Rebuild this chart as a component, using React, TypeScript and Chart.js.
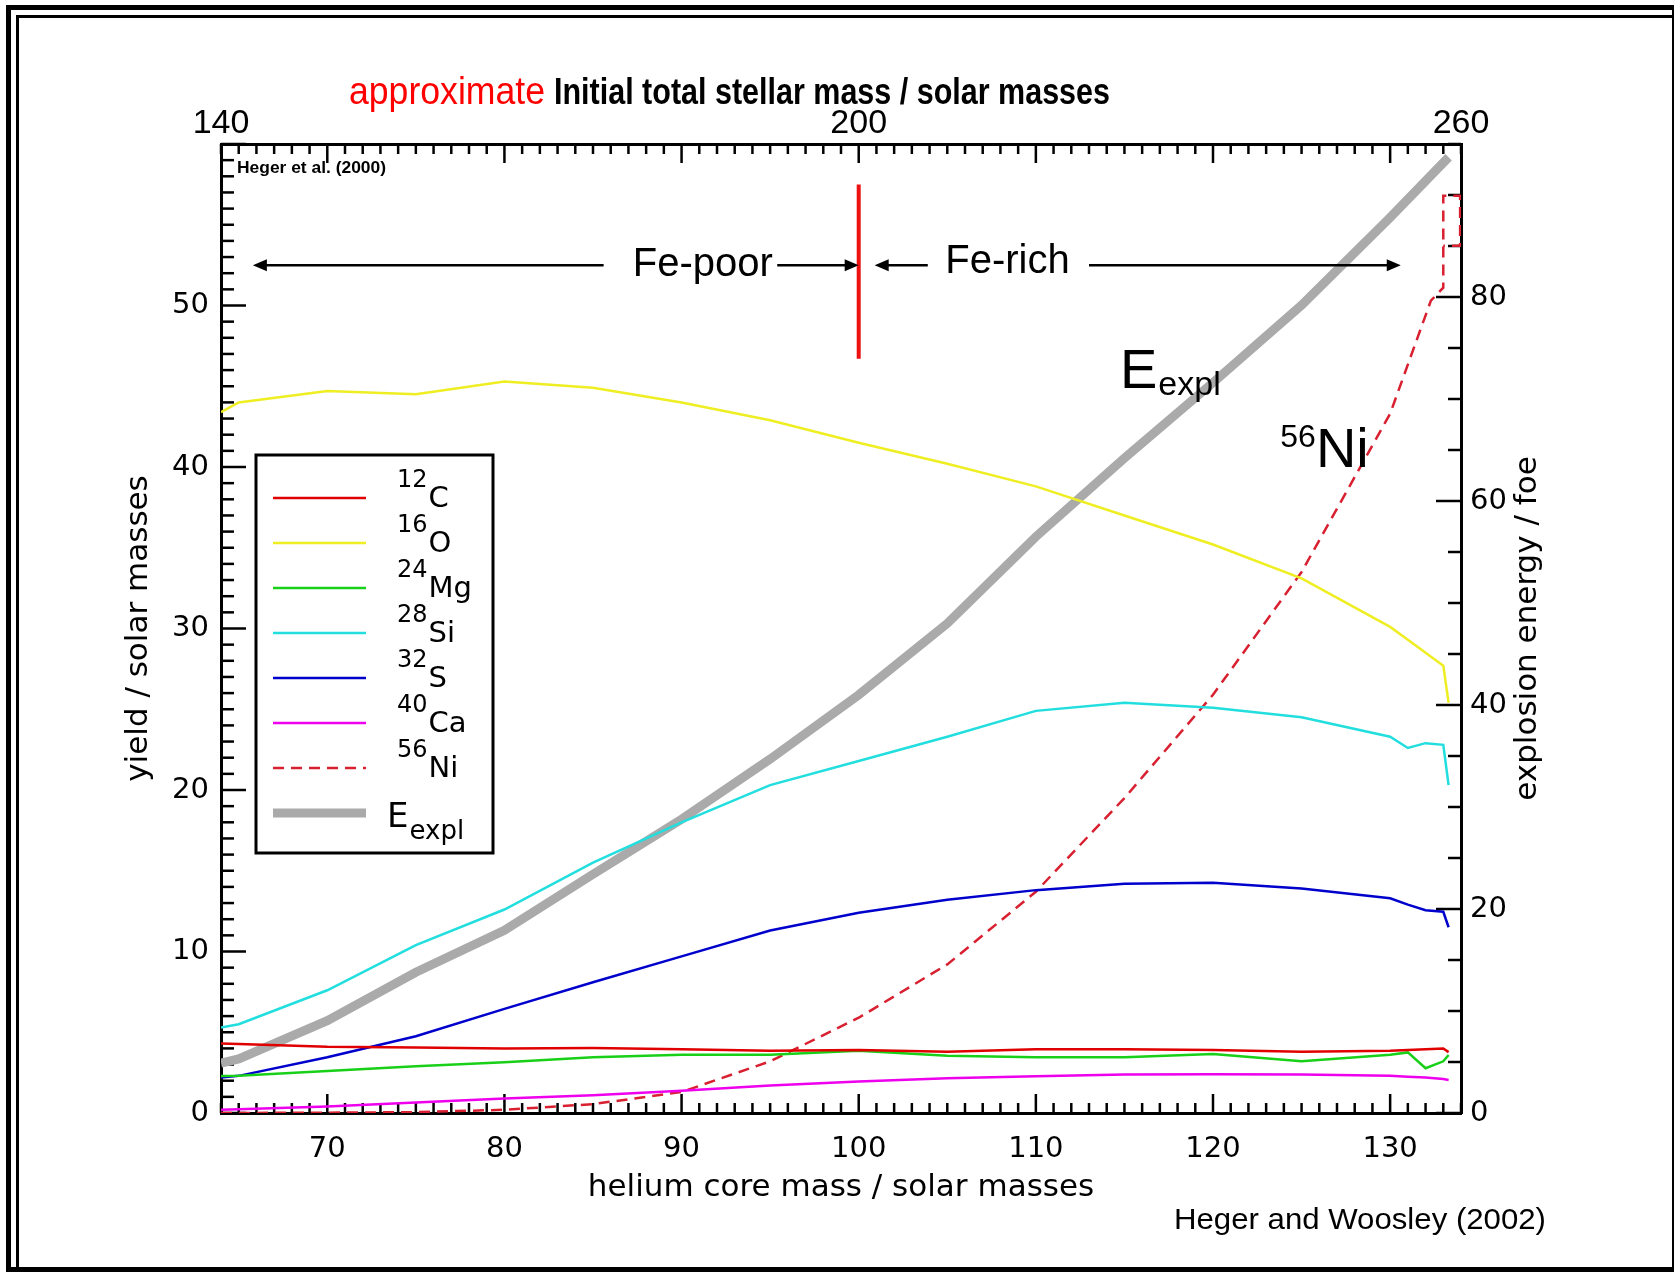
import React, { useEffect, useRef } from 'react';
import { Chart, registerables } from 'chart.js';

Chart.register(...registerables);

const CANVAS_W = 1674;
const CANVAS_H = 1272;

// ---------- data ----------
// helium core mass grid, solar masses
const heCoreMass = [64, 65, 70, 75, 80, 85, 90, 95, 100, 105, 110, 115, 120, 125, 130, 131, 132, 133, 133.3];
const yieldC12 = [4.3, 4.28, 4.1, 4.05, 4.0, 4.02, 3.95, 3.85, 3.9, 3.8, 3.95, 3.95, 3.9, 3.8, 3.85, 3.9, 3.95, 4.0, 3.77];
const yieldO16 = [43.4, 44.0, 44.7, 44.5, 45.3, 44.9, 44.0, 42.9, 41.5, 40.2, 38.8, 37.0, 35.2, 33.1, 30.1, 29.3, 28.5, 27.7, 25.4];
const yieldMg24 = [2.29, 2.3, 2.6, 2.9, 3.15, 3.45, 3.6, 3.6, 3.85, 3.55, 3.45, 3.45, 3.65, 3.2, 3.6, 3.75, 2.77, 3.2, 3.59];
const yieldSi28 = [5.3, 5.5, 7.6, 10.4, 12.6, 15.5, 18.0, 20.3, 21.8, 23.3, 24.9, 25.4, 25.1, 24.5, 23.3, 22.6, 22.9, 22.8, 20.3];
const yieldS32 = [2.2, 2.3, 3.45, 4.75, 6.45, 8.1, 9.7, 11.3, 12.4, 13.2, 13.8, 14.2, 14.25, 13.9, 13.3, 12.9, 12.56, 12.46, 11.5];
const yieldCa40 = [0.2, 0.23, 0.4, 0.65, 0.9, 1.1, 1.38, 1.7, 1.95, 2.15, 2.28, 2.38, 2.4, 2.38, 2.3, 2.25, 2.2, 2.1, 2.04];

const ni56Mass = [64, 70, 75, 80, 85, 90, 95, 100, 105, 110, 115, 120, 125, 130, 132.3, 133.0, 133.0, 133.95, 133.95, 133.0];
const ni56Yield = [0.0, 0.02, 0.05, 0.2, 0.55, 1.3, 3.2, 5.9, 9.2, 13.7, 19.5, 25.9, 33.5, 43.3, 50.3, 51.1, 56.8, 56.8, 53.7, 53.7];

const eExplMass = [64, 65, 70, 75, 80, 85, 90, 95, 100, 105, 110, 115, 120, 125, 130, 133.3];
const eExplFoe = [4.9, 5.3, 9.05, 13.8, 17.9, 23.4, 28.8, 34.7, 41.0, 48.0, 56.5, 64.2, 71.6, 79.2, 87.8, 93.7];

const legendMass = ['12', '16', '24', '28', '32', '40', '56'];
const legendElement = ['C', 'O', 'Mg', 'Si', 'S', 'Ca', 'Ni'];

const xTickValues = [70, 80, 90, 100, 110, 120, 130];
const yTickValues = [0, 10, 20, 30, 40, 50];
const y2TickValues = [0, 20, 40, 60, 80];
const topTickValues = [64, 100, 134];
const topTickLabels = ['140', '200', '260'];

// ---------- styling ----------
const IDL_FONT = "'DejaVu Sans', sans-serif";
const PPT_FONT = "'Liberation Sans', Arial, sans-serif";

const pts = (xs: number[], ys: number[]) => xs.map((x, i) => ({ x, y: ys[i] }));

function drawText(
  ctx: CanvasRenderingContext2D,
  s: string,
  x: number,
  y: number,
  font: string,
  color: string,
  opts: { align?: CanvasTextAlign; baseline?: CanvasTextBaseline; width?: number } = {}
): number {
  ctx.save();
  ctx.font = font;
  ctx.fillStyle = color;
  ctx.textAlign = opts.align || 'left';
  ctx.textBaseline = opts.baseline || 'alphabetic';
  const m = ctx.measureText(s).width;
  let w = m;
  if (opts.width) {
    const k = opts.width / m;
    ctx.translate(x, y);
    ctx.scale(k, 1);
    ctx.fillText(s, 0, 0);
    w = opts.width;
  } else {
    ctx.fillText(s, x, y);
  }
  ctx.restore();
  return w;
}

const framePlugin = {
  id: 'frame',
  beforeDraw(chart: any) {
    const { ctx } = chart;
    ctx.save();
    ctx.fillStyle = '#ffffff';
    ctx.fillRect(0, 0, CANVAS_W, CANVAS_H);
    ctx.fillStyle = '#000000';
    // outer frame
    ctx.fillRect(6, 5, CANVAS_W - 6, 5);
    ctx.fillRect(6, 5, 5, CANVAS_H - 5);
    ctx.fillRect(6, CANVAS_H - 5, CANVAS_W - 6, 5);
    ctx.fillRect(CANVAS_W - 2, 5, 2, CANVAS_H - 5);
    // inner line
    ctx.fillRect(16, 15, CANVAS_W - 16, 3);
    ctx.fillRect(16, 15, 3, CANVAS_H - 15);
    ctx.restore();
  },
};

const tickPlugin = {
  id: 'idlTicks',
  beforeDatasetsDraw(chart: any) {
    const { ctx, chartArea: a, scales } = chart;
    const line = (x1: number, y1: number, x2: number, y2: number) => {
      ctx.beginPath();
      ctx.moveTo(x1, y1);
      ctx.lineTo(x2, y2);
      ctx.stroke();
    };
    ctx.save();
    ctx.strokeStyle = '#000';
    ctx.lineWidth = 2.5;
    const xs = scales.x;
    for (let v = Math.ceil(xs.min); v <= xs.max; v += 1) {
      const px = xs.getPixelForValue(v);
      const len = v % 10 === 0 ? 19 : 10;
      line(px, a.bottom, px, a.bottom - len);
      line(px, a.top, px, a.top + len);
    }
    const ys = scales.y;
    for (let v = ys.min; v <= ys.max; v += 1) {
      const py = ys.getPixelForValue(v);
      const len = v % 10 === 0 ? 25 : 13;
      line(a.left, py, a.left + len, py);
    }
    const y2 = scales.y2;
    for (let v = y2.min; v <= y2.max; v += 5) {
      const py = y2.getPixelForValue(v);
      const len = v % 20 === 0 ? 25 : 13;
      line(a.right, py, a.right - len, py);
    }
    ctx.restore();
  },
};

const annotationPlugin = {
  id: 'annotations',
  afterDatasetsDraw(chart: any) {
    const { ctx, chartArea: a, scales } = chart;
    const x = scales.x;
    const y = scales.y;
    ctx.save();

    // Fe-poor / Fe-rich divider
    ctx.strokeStyle = '#ee1111';
    ctx.lineWidth = 4;
    ctx.beginPath();
    ctx.moveTo(x.getPixelForValue(100), y.getPixelForValue(57.5));
    ctx.lineTo(x.getPixelForValue(100), y.getPixelForValue(46.7));
    ctx.stroke();

    // arrows
    const ay = y.getPixelForValue(52.5);
    const arrows: [number, number][] = [
      [85.6, 65.8],
      [95.4, 100.0],
      [103.9, 100.9],
      [113.0, 130.6],
    ];
    ctx.strokeStyle = '#000';
    ctx.fillStyle = '#000';
    ctx.lineWidth = 2.5;
    for (const [from, to] of arrows) {
      const x1 = x.getPixelForValue(from);
      const x2 = x.getPixelForValue(to);
      const dir = Math.sign(x2 - x1);
      ctx.beginPath();
      ctx.moveTo(x1, ay);
      ctx.lineTo(x2 - dir * 10, ay);
      ctx.stroke();
      ctx.beginPath();
      ctx.moveTo(x2, ay);
      ctx.lineTo(x2 - dir * 14, ay - 6);
      ctx.lineTo(x2 - dir * 14, ay + 6);
      ctx.closePath();
      ctx.fill();
    }
    drawText(ctx, 'Fe-poor', x.getPixelForValue(91.2), ay, `40px ${PPT_FONT}`, '#000', { align: 'center', baseline: 'middle' });
    drawText(ctx, 'Fe-rich', x.getPixelForValue(108.4), ay - 3, `40px ${PPT_FONT}`, '#000', { align: 'center', baseline: 'middle' });

    // E_expl label
    const ex = x.getPixelForValue(114.75);
    const eb = y.getPixelForValue(44.9);
    const ew = drawText(ctx, 'E', ex, eb, `56px ${PPT_FONT}`, '#000');
    drawText(ctx, 'expl', ex + ew + 1, eb + 7, `34px ${PPT_FONT}`, '#000');

    // 56Ni label
    const nx = x.getPixelForValue(123.8);
    const nb = y.getPixelForValue(40.0);
    const nw = drawText(ctx, '56', nx, nb - 20, `32px ${PPT_FONT}`, '#000');
    drawText(ctx, 'Ni', nx + nw, nb, `56px ${PPT_FONT}`, '#000');

    // small IDL credit inside plot
    drawText(ctx, 'Heger et al. (2000)', a.left + 16, a.top + 29, `bold 16px ${PPT_FONT}`, '#000', { width: 149 });

    // legend box
    const lx = a.left + 35;
    const ly = a.top + 311;
    ctx.fillStyle = '#fff';
    ctx.fillRect(lx, ly, 237, 398);
    ctx.strokeStyle = '#000';
    ctx.lineWidth = 3;
    ctx.setLineDash([]);
    ctx.strokeRect(lx, ly, 237, 398);
    const datasets = chart.data.datasets;
    datasets.forEach((ds: any, i: number) => {
      const rowY = ly + 43 + 45 * i;
      ctx.save();
      ctx.beginPath();
      ctx.strokeStyle = ds.borderColor;
      ctx.lineWidth = ds.borderWidth;
      ctx.setLineDash(ds.borderDash || []);
      ctx.moveTo(lx + 17, rowY);
      ctx.lineTo(lx + 110, rowY);
      ctx.stroke();
      ctx.restore();
      const tx = lx + 141;
      if (i < legendMass.length) {
        const w = drawText(ctx, legendMass[i], tx, rowY - 11, `24px ${IDL_FONT}`, '#000');
        drawText(ctx, legendElement[i], tx + w + 1, rowY + 9, `29px ${IDL_FONT}`, '#000');
      } else {
        const w = drawText(ctx, 'E', tx - 10, rowY + 14, `34px ${IDL_FONT}`, '#000');
        drawText(ctx, 'expl', tx - 10 + w + 1, rowY + 26, `26px ${IDL_FONT}`, '#000');
      }
    });

    ctx.restore();
  },
};

const outerTextPlugin = {
  id: 'outerText',
  afterDraw(chart: any) {
    const { ctx, chartArea: a } = chart;
    // right-axis title, reading bottom to top
    ctx.save();
    ctx.translate(a.right + 67, (a.top + a.bottom) / 2);
    ctx.rotate(-Math.PI / 2);
    ctx.font = `31px ${IDL_FONT}`;
    ctx.fillStyle = '#000';
    ctx.textAlign = 'center';
    ctx.textBaseline = 'middle';
    ctx.fillText('explosion energy / foe', 0, 0);
    ctx.restore();

    // top title
    drawText(ctx, 'approximate', 349, 104, `38px ${PPT_FONT}`, '#ff0000', { width: 196 });
    drawText(ctx, 'Initial total stellar mass / solar masses', 554, 104, `bold 37px ${PPT_FONT}`, '#000', { width: 556 });

    // reference
    drawText(ctx, 'Heger and Woosley (2002)', 1174, 1229, `30px ${PPT_FONT}`, '#000', { width: 372 });
  },
};

export default function App() {
  const canvasRef = useRef<HTMLCanvasElement | null>(null);

  useEffect(() => {
    document.body.style.margin = '0';
    const canvas = canvasRef.current;
    if (!canvas) return;

    const common = {
      pointRadius: 0,
      tension: 0,
      fill: false,
      yAxisID: 'y',
      xAxisID: 'x',
    };

    const chart = new Chart(canvas, {
      type: 'line',
      data: {
        datasets: [
          { ...common, label: '12C', data: pts(heCoreMass, yieldC12), borderColor: '#e00000', borderWidth: 2.5 },
          { ...common, label: '16O', data: pts(heCoreMass, yieldO16), borderColor: '#eeee22', borderWidth: 2.5 },
          { ...common, label: '24Mg', data: pts(heCoreMass, yieldMg24), borderColor: '#18d018', borderWidth: 2.5 },
          { ...common, label: '28Si', data: pts(heCoreMass, yieldSi28), borderColor: '#22dede', borderWidth: 2.5 },
          { ...common, label: '32S', data: pts(heCoreMass, yieldS32), borderColor: '#0000cc', borderWidth: 2.5 },
          { ...common, label: '40Ca', data: pts(heCoreMass, yieldCa40), borderColor: '#ee00ee', borderWidth: 2.5 },
          { ...common, label: '56Ni', data: pts(ni56Mass, ni56Yield), borderColor: '#d82030', borderWidth: 2.5, borderDash: [11, 7] },
          { ...common, label: 'Eexpl', data: pts(eExplMass, eExplFoe), borderColor: '#aaaaaa', borderWidth: 9, yAxisID: 'y2' },
        ],
      },
      options: {
        responsive: false,
        maintainAspectRatio: false,
        devicePixelRatio: 1,
        animation: false,
        events: [],
        layout: { padding: 0 },
        plugins: {
          legend: { display: false },
          title: { display: false },
          tooltip: { enabled: false },
        },
        scales: {
          x: {
            type: 'linear',
            position: 'bottom',
            min: 64,
            max: 134,
            afterBuildTicks: (s: any) => {
              s.ticks = xTickValues.map((v) => ({ value: v }));
            },
            afterFit: (s: any) => {
              s.height = CANVAS_H - 1113;
            },
            ticks: {
              autoSkip: false,
              maxRotation: 0,
              padding: 19,
              color: '#000',
              font: { family: IDL_FONT, size: 29 },
              callback: (v: any) => String(v),
            },
            grid: { display: false, drawTicks: false },
            border: { display: true, color: '#000', width: 3 },
            title: {
              display: true,
              text: 'helium core mass / solar masses',
              color: '#000',
              font: { family: IDL_FONT, size: 31 },
              padding: { top: 0, bottom: 65 },
            },
          },
          x2: {
            type: 'linear',
            position: 'top',
            min: 64,
            max: 134,
            afterBuildTicks: (s: any) => {
              s.ticks = topTickValues.map((v) => ({ value: v }));
            },
            afterFit: (s: any) => {
              s.height = 144;
            },
            ticks: {
              autoSkip: false,
              maxRotation: 0,
              padding: 0,
              color: '#000',
              font: { family: PPT_FONT, size: 34 },
              callback: (_v: any, i: number) => topTickLabels[i],
            },
            grid: { display: false, drawTicks: false },
            border: { display: true, color: '#000', width: 3 },
          },
          y: {
            type: 'linear',
            position: 'left',
            min: 0,
            max: 60,
            afterBuildTicks: (s: any) => {
              s.ticks = yTickValues.map((v) => ({ value: v }));
            },
            afterFit: (s: any) => {
              s.width = 221;
            },
            ticks: {
              autoSkip: false,
              padding: 12,
              color: '#000',
              font: { family: IDL_FONT, size: 29 },
              callback: (v: any) => String(v),
            },
            grid: { display: false, drawTicks: false },
            border: { display: true, color: '#000', width: 3 },
            title: {
              display: true,
              text: 'yield / solar masses',
              color: '#000',
              font: { family: IDL_FONT, size: 31 },
              padding: { top: 120, bottom: 0 },
            },
          },
          y2: {
            type: 'linear',
            position: 'right',
            min: 0,
            max: 95,
            afterBuildTicks: (s: any) => {
              s.ticks = y2TickValues.map((v) => ({ value: v }));
            },
            afterFit: (s: any) => {
              s.width = CANVAS_W - 1461;
            },
            ticks: {
              autoSkip: false,
              padding: 9,
              color: '#000',
              font: { family: IDL_FONT, size: 29 },
              callback: (v: any) => String(v),
            },
            grid: { display: false, drawTicks: false },
            border: { display: true, color: '#000', width: 3 },
          },
        },
      } as any,
      plugins: [framePlugin, tickPlugin, annotationPlugin, outerTextPlugin],
    });

    return () => chart.destroy();
  }, []);

  return (
    <div style={{ width: CANVAS_W, height: CANVAS_H }}>
      <canvas
        ref={canvasRef}
        width={CANVAS_W}
        height={CANVAS_H}
        style={{ display: 'block', width: CANVAS_W, height: CANVAS_H }}
      />
    </div>
  );
}
